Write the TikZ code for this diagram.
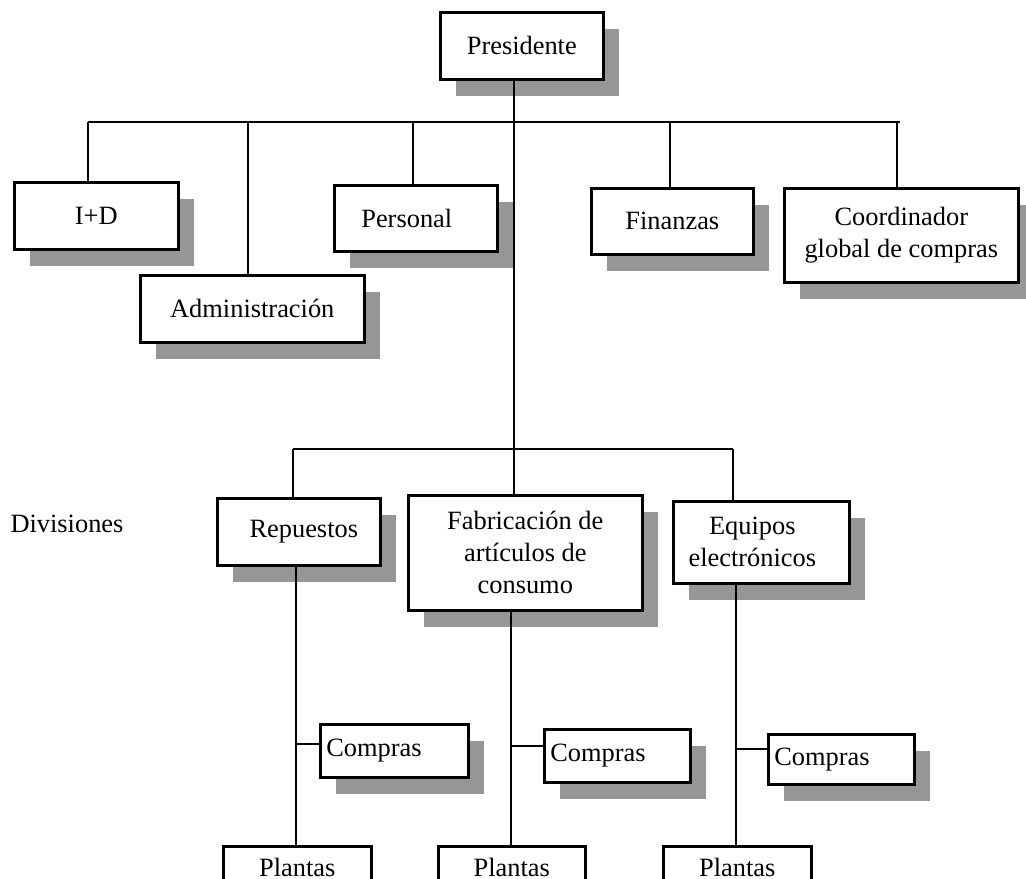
\documentclass[tikz,border=0pt]{standalone}
\usepackage{fontspec}
\setmainfont{Liberation Serif}
\usepackage{tikz}
\usetikzlibrary{positioning,shadows}
\definecolor{sombra}{RGB}{150,150,150}
\tikzset{
caja/.style={draw, fill=white, line width=1.3pt, align=center, inner sep=2pt, anchor=north west, general shadow={fill=sombra, draw=none, shadow xshift=8pt, shadow yshift=-8.5pt}},
compra/.style={caja, align=left, text width=#1, inner xsep=3pt},
planta/.style={draw, fill=white, line width=1.3pt, anchor=north west},
linea/.style={line width=1.3pt}
}

\begin{document}
\begin{tikzpicture}[x=0.5pt, y=-0.5pt, every node/.style={font=\fontsize{13.2}{16}\selectfont}]
\useasboundingbox (0,0) rectangle (1026,878);
\node[caja, minimum width=81.5pt, minimum height=33.5pt] (pres) at (439,11) {Presidente};
\node[caja, minimum width=82pt, minimum height=33.5pt] (d1) at (13,181) {I+D}; \node[caja, minimum width=112pt, minimum height=33.5pt] (d2) at (139,274) {Administración}; \node[caja, minimum width=81.5pt, minimum height=33pt] (d3) at (333,184) {\hspace*{-9pt}Personal}; \node[caja, minimum width=81pt, minimum height=33pt] (d4) at (590,187) {Finanzas}; \node[caja, minimum width=117pt, minimum height=47pt] (d5) at (783,187) {Coordinador\\global de compras};
\node (div) at (67,524) {Divisiones};
\node[caja, minimum width=81.5pt, minimum height=33.5pt] (v1) at (216,497) {\hspace*{5pt}Repuestos}; \node[caja, minimum width=117pt, minimum height=57.5pt] (v2) at (407,494) {Fabricación de\\artículos de\\consumo}; \node[caja, minimum width=88pt, minimum height=41pt] (v3) at (672,500) {\hspace*{-9pt}Equipos\\\hspace*{-9pt}electrónicos};
\node[compra=68pt, minimum height=26.5pt] (c1) at (319,723) {Compras}; \node[compra=67pt, minimum height=26.5pt] (c2) at (543,728) {Compras}; \node[compra=67pt, minimum height=25pt] (c3) at (767,733) {Compras};
\node[planta, minimum width=74pt, minimum height=21pt] (pl1) at (222,845) {Plantas}; \node[planta, minimum width=73.5pt, minimum height=21pt] (pl2) at (437,845) {Plantas}; \node[planta, minimum width=74pt, minimum height=21pt] (pl3) at (662,845) {Plantas};
\coordinate (s1) at (88,122); \coordinate (s2) at (248,122); \coordinate (s3) at (413,122); \coordinate (s4) at (670,122); \coordinate (s5) at (897,122); \coordinate (s6) at (900,122); \coordinate (t1) at (514,122);
\coordinate (r1) at (293,449); \coordinate (r3) at (733,449);
\coordinate (k1) at (296,744); \coordinate (k2) at (511,746); \coordinate (k3) at (736,749);
\draw[linea] (pres.south -| t1) -- (v2.north -| t1); \draw[linea] (s1) -- (s6);
\draw[linea] (s1) -- (s1 |- d1.north); \draw[linea] (s2) -- (s2 |- d2.north); \draw[linea] (s3) -- (s3 |- d3.north); \draw[linea] (s4) -- (s4 |- d4.north); \draw[linea] (s5) -- (s5 |- d5.north);
\draw[linea] (r1) -- (r3); \draw[linea] (r1) -- (r1 |- v1.north); \draw[linea] (r3) -- (r3 |- v3.north);
\draw[linea] (k1 |- v1.south) -- (k1 |- pl1.north); \draw[linea] (k1) -- (k1 -| c1.west);
\draw[linea] (k2 |- v2.south) -- (k2 |- pl2.north); \draw[linea] (k2) -- (k2 -| c2.west);
\draw[linea] (k3 |- v3.south) -- (k3 |- pl3.north); \draw[linea] (k3) -- (k3 -| c3.west);
\end{tikzpicture}
\end{document}
